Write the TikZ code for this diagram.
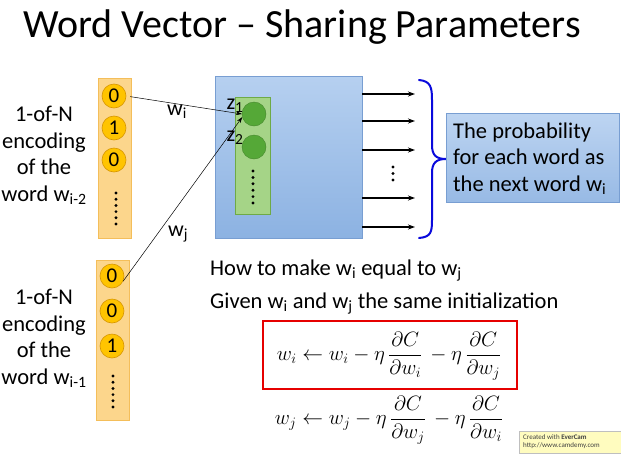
\documentclass[tikz,border=0pt]{standalone}
\usepackage{amsmath}
\usepackage{fontspec}
\setmainfont{Carlito}
\usetikzlibrary{arrows.meta}
\definecolor{colfill}{RGB}{252,214,140}
\definecolor{coldraw}{RGB}{244,190,90}
\definecolor{gold}{RGB}{255,196,0}
\definecolor{golddark}{RGB}{215,150,0}
\definecolor{bluetop}{RGB}{182,208,240}
\definecolor{bluebot}{RGB}{140,178,226}
\definecolor{blueline}{RGB}{120,158,210}
\definecolor{greenbox}{RGB}{165,212,135}
\definecolor{greenline}{RGB}{110,170,70}
\definecolor{greenball}{RGB}{85,168,55}
\definecolor{bracecol}{RGB}{10,10,220}
\definecolor{redbox}{RGB}{230,0,0}
\begin{document}
\begin{tikzpicture}[x=1pt,y=-1pt,
  column/.style={draw=coldraw,line width=0.8pt,fill=colfill,minimum width=33pt,minimum height=160pt,inner sep=0pt},
  onehot/.style={circle,fill=gold,draw=golddark,line width=0.6pt,minimum size=24pt,inner sep=0pt,font=\fontsize{21}{21}\selectfont},
  gball/.style={circle,fill=greenball,draw=greenball!80!black,line width=0.4pt,minimum size=24pt,inner sep=0pt},
  label/.style={font=\fontsize{22.5}{26.5}\selectfont,align=center,inner sep=0pt},
  body/.style={font=\fontsize{22.5}{26}\selectfont,inner sep=0pt,anchor=base west},
  small/.style={font=\fontsize{22}{22}\selectfont,inner sep=0pt,anchor=base},
  conn/.style={-{Stealth[length=6pt,width=4pt]},line width=0.5pt},
  outarr/.style={-{Stealth[length=7pt,width=5pt]},line width=1.2pt},
  dotc/.style={fill=black}
]
\useasboundingbox (0,0) rectangle (621,453);
\fill[white] (0,0) rectangle (621,453);

% title
\node[font=\fontsize{40}{40}\selectfont,anchor=base,inner sep=0pt] (title) at (302,37) {Word Vector -- Sharing Parameters};

% top column
\node[column] (colA) at (114.5,158) {};
\node[onehot] (a1) at (114,96) {0};
\node[onehot] (a2) at (114,128) {1};
\node[onehot] (a3) at (114,160) {0};
\foreach \k in {0,...,5} \fill[dotc] (116,193+6.2*\k) circle (1.6pt);
\node[label,anchor=base] (labA) at (44,201) {1-of-N\\encoding\\of the\\word w\textsubscript{i-2}};

% bottom column
\node[column] (colB) at (112.5,340.5) {};
\node[onehot] (b1) at (112,276) {0};
\node[onehot] (b2) at (112,311) {0};
\node[onehot] (b3) at (112,346) {1};
\foreach \k in {0,...,5} \fill[dotc] (113,376+6.2*\k) circle (1.6pt);
\node[label,anchor=base] (labB) at (44,384) {1-of-N\\encoding\\of the\\word w\textsubscript{i-1}};

% big blue box
\node[draw=blueline,line width=0.8pt,top color=bluetop,bottom color=bluebot,minimum width=147pt,minimum height=162pt,inner sep=0pt] (net) at (288.5,157) {};
\node[draw=greenline,line width=0.8pt,fill=greenbox,minimum width=35pt,minimum height=117pt,inner sep=0pt] (gcol) at (252.5,155.5) {};
\node[gball] (g1) at (254,114) {};
\node[gball] (g2) at (254,147) {};
\foreach \k in {0,...,5} \fill[dotc] (253,171+6.4*\k) circle (1.6pt);
\node[small] (z1) at (235,109) {z\textsubscript{1}};
\node[small] (z2) at (235,141) {z\textsubscript{2}};

% connectors
\draw[conn,shorten <=4pt] (a1.east) -- (g1.west);
\draw[conn] (b1.-25) -- (g1.195);
\node[small] (wi) at (177,115) {w\textsubscript{i}};
\node[small] (wj) at (178,236) {w\textsubscript{j}};

% output arrows
\foreach \yy [count=\n] in {94,121,150,198,227} {
  \coordinate (o\n) at (415,\yy);
  \draw[outarr] (net.east |- o\n) -- (o\n);
}
\foreach \k in {0,1,2} \fill[dotc] (393,167+6.5*\k) circle (1.6pt);

% brace
\draw[bracecol,line width=2pt,line cap=round] (419,80) .. controls (431,81) and (432,88) .. (432,100)
  -- (432,145) .. controls (432,155) and (436,159) .. (446,159)
  .. controls (436,159) and (432,163) .. (432,173)
  -- (432,220) .. controls (432,232) and (431,237) .. (419,238);

% probability box
\node[draw=blueline,line width=0.8pt,top color=bluetop!90!white,bottom color=bluebot!90!white,minimum width=173pt,minimum height=89pt,inner sep=0pt] (prob) at (532.5,157.5) {};
\node[label,align=left,anchor=base west] (probtxt) at (453,191) {The probability\\for each word as\\the next word w\textsubscript{i}};

% statements
\node[body] (how) at (210,275) {How to make w\textsubscript{i} equal to w\textsubscript{j}};
\node[body] (given) at (210,308) {Given w\textsubscript{i} and w\textsubscript{j} the same initialization};

% formulas
\node[draw=redbox,line width=1.6pt,minimum width=254pt,minimum height=68pt,inner sep=0pt] (redb) at (390,355) {};
\node[font=\fontsize{22}{24}\selectfont,inner sep=0pt] (f1) at (389,356) {$w_i \leftarrow w_i - \eta\,\dfrac{\partial C}{\partial w_i}\,-\eta\,\dfrac{\partial C}{\partial w_j}$};
\node[font=\fontsize{22}{24}\selectfont,inner sep=0pt] (f2) at (389,420) {$w_j \leftarrow w_j - \eta\,\dfrac{\partial C}{\partial w_j}\,-\eta\,\dfrac{\partial C}{\partial w_i}$};

% evercam stamp
\begin{scope}
\clip (0,0) rectangle (621,453);
\node[draw=black!25,fill=yellow!25,minimum width=104pt,minimum height=22pt,inner sep=0pt,anchor=north west] (stamp) at (519,431) {};
\node[font=\fontsize{7}{8.5}\selectfont,align=left,anchor=north west,inner sep=0pt,text=black!75] (stamptxt) at (523,434) {Created with \textbf{EverCam}\\http://www.camdemy.com};
\end{scope}
\end{tikzpicture}
\end{document}
